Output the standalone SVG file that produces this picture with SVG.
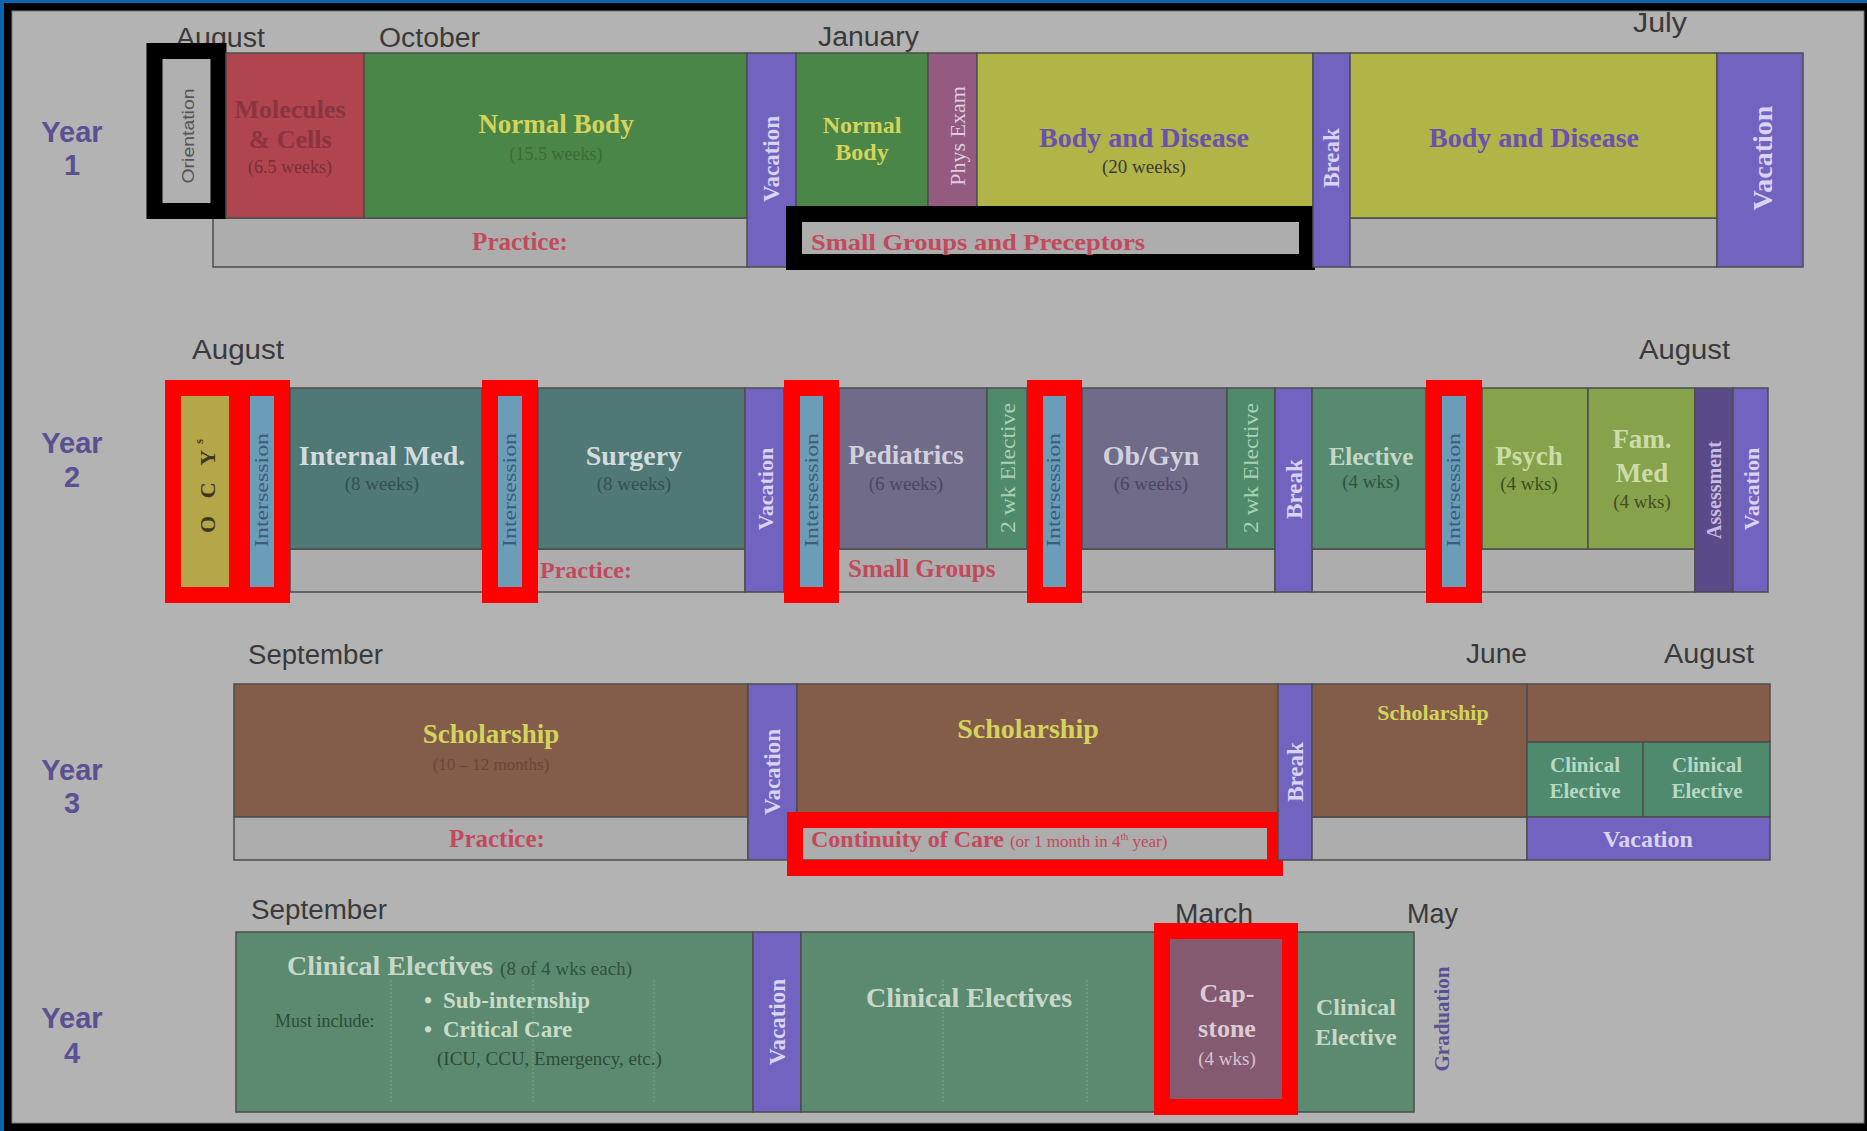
<svg xmlns="http://www.w3.org/2000/svg" width="1867" height="1131" viewBox="0 0 1867 1131">
  <defs>
    <style>
      .mon { font-family: "Liberation Sans", Arial, sans-serif; font-size: 27px; fill: #3a3a3a; }
      .yr { font-family: "Liberation Sans", Arial, sans-serif; font-size: 29px; font-weight: bold; fill: #5a5192; text-anchor: middle; }
      .cell { stroke: #4d4d4d; stroke-width: 1.5; }
      .row { fill: #adadad; stroke: #4d4d4d; stroke-width: 1.5; }
      .b { font-family: "Liberation Serif", "Times New Roman", serif; font-weight: bold; text-anchor: middle; }
      .r { font-family: "Liberation Serif", "Times New Roman", serif; text-anchor: middle; }
      .rl { font-family: "Liberation Serif", "Times New Roman", serif; }
      .bl { font-family: "Liberation Serif", "Times New Roman", serif; font-weight: bold; }
      .vac { fill: #7363c0; stroke: #4d4d4d; stroke-width: 1.5; }
      .vt { font-family: "Liberation Serif", "Times New Roman", serif; font-weight: bold; fill: #d8d4f2; text-anchor: middle; dominant-baseline: central; }
      .ist { fill: #6b9cb8; }
      .it { font-family: "Liberation Serif", "Times New Roman", serif; font-size: 18px; fill: #3d5c7a; text-anchor: middle; dominant-baseline: central; }
      .red { fill: none; stroke: #ff0000; stroke-width: 16; }
      .blk { fill: none; stroke: #000000; stroke-width: 16; }
      .pr { fill: #c24a5c; }
      .yel { fill: #d4d45c; }
      .dot { stroke: #7da08a; stroke-width: 1; stroke-dasharray: 2 2; }
    </style>
  </defs>

  <!-- frame -->
  <rect x="0" y="0" width="1867" height="1131" fill="#000000"/>
  <rect x="0" y="0" width="4" height="1131" fill="#0a64b0"/>
  <rect x="0" y="0" width="1867" height="3" fill="#0a64b0"/>
  <rect x="12" y="11" width="1852" height="1112" fill="#b3b3b3" stroke="#7a7a7a" stroke-width="1"/>

  <!-- year labels -->
  <g id="year-labels">
    <text class="yr" x="72" y="142">Year</text><text class="yr" x="72" y="175">1</text>
    <text class="yr" x="72" y="453">Year</text><text class="yr" x="72" y="487">2</text>
    <text class="yr" x="72" y="780">Year</text><text class="yr" x="72" y="813">3</text>
    <text class="yr" x="72" y="1028">Year</text><text class="yr" x="72" y="1063">4</text>
  </g>

  <!-- month labels -->
  <g id="months">
    <text class="mon" x="176" y="47" textLength="89" lengthAdjust="spacingAndGlyphs">August</text>
    <text class="mon" x="379" y="47" textLength="101" lengthAdjust="spacingAndGlyphs">October</text>
    <text class="mon" x="818" y="46" textLength="101" lengthAdjust="spacingAndGlyphs">January</text>
    <text class="mon" x="1633" y="32" textLength="54" lengthAdjust="spacingAndGlyphs">July</text>
    <text class="mon" x="192" y="359" textLength="92" lengthAdjust="spacingAndGlyphs">August</text>
    <text class="mon" x="1639" y="359" textLength="91" lengthAdjust="spacingAndGlyphs">August</text>
    <text class="mon" x="248" y="664" textLength="135" lengthAdjust="spacingAndGlyphs">September</text>
    <text class="mon" x="1466" y="663" textLength="61" lengthAdjust="spacingAndGlyphs">June</text>
    <text class="mon" x="1664" y="663" textLength="90" lengthAdjust="spacingAndGlyphs">August</text>
    <text class="mon" x="251" y="919" textLength="136" lengthAdjust="spacingAndGlyphs">September</text>
    <text class="mon" x="1175" y="923" textLength="78" lengthAdjust="spacingAndGlyphs">March</text>
    <text class="mon" x="1407" y="923" textLength="51" lengthAdjust="spacingAndGlyphs">May</text>
  </g>

  <!-- ===== Year 1 ===== -->
  <g id="y1-practice-row">
    <rect class="row" x="213" y="218" width="536" height="49"/>
    <text class="b pr" x="520" y="250" font-size="25">Practice:</text>
  </g>
  <g id="y1-orientation">
    <rect x="155" y="53" width="71" height="165" fill="#b0b0b0"/>
    <text class="r" transform="translate(188,136) rotate(-90)" dominant-baseline="central" font-size="17" fill="#555" textLength="95" lengthAdjust="spacingAndGlyphs" style="font-family:'Liberation Sans',Arial,sans-serif">Orientation</text>
    <rect class="blk" x="154.5" y="51" width="64" height="160" stroke-width="15.5"/>
  </g>
  <g id="y1-molecules">
    <rect class="cell" x="226" y="53" width="138" height="165" fill="#b0454f"/>
    <text class="b" x="290" y="118" font-size="26" fill="#8a3440">Molecules</text>
    <text class="b" x="290" y="148" font-size="26" fill="#8a3440">&amp; Cells</text>
    <text class="r" x="290" y="173" font-size="18" fill="#7a2e38">(6.5 weeks)</text>
  </g>
  <g id="y1-normal-body">
    <rect class="cell" x="364" y="53" width="383" height="165" fill="#4a8647"/>
    <text class="b yel" x="556" y="133" font-size="27">Normal Body</text>
    <text class="r" x="556" y="160" font-size="18" fill="#3c6a3c">(15.5 weeks)</text>
  </g>
  <g id="y1-vacation-1">
    <rect class="vac" x="747" y="53" width="49" height="214"/>
    <text class="vt" transform="translate(771,159) rotate(-90)" font-size="23">Vacation</text>
  </g>
  <g id="y1-normal-body-2">
    <rect class="row" x="796" y="218" width="517" height="49"/>
    <rect class="cell" x="796" y="53" width="132" height="165" fill="#4a8647"/>
    <text class="b yel" x="862" y="133" font-size="24">Normal</text>
    <text class="b yel" x="862" y="160" font-size="24">Body</text>
  </g>
  <g id="y1-phys-exam">
    <rect class="cell" x="928" y="53" width="49" height="165" fill="#955a80"/>
    <text class="r" transform="translate(957,136) rotate(-90)" dominant-baseline="central" font-size="22" fill="#ddd0dd">Phys Exam</text>
  </g>
  <g id="y1-body-disease-1">
    <rect class="cell" x="977" y="53" width="336" height="165" fill="#b1b446"/>
    <text class="b" x="1144" y="147" font-size="28" fill="#6a50b0">Body and Disease</text>
    <text class="r" x="1144" y="173" font-size="19" fill="#3a3a3a">(20 weeks)</text>
  </g>
  <g id="y1-small-groups">
    <rect class="blk" x="794" y="214" width="513" height="48"/>
    <text class="bl pr" x="811" y="250" font-size="24" textLength="334" lengthAdjust="spacingAndGlyphs">Small Groups and Preceptors</text>
  </g>
  <g id="y1-break">
    <rect class="vac" x="1313" y="53" width="37" height="214"/>
    <text class="vt" transform="translate(1331,158) rotate(-90)" font-size="23">Break</text>
  </g>
  <g id="y1-body-disease-2">
    <rect class="row" x="1350" y="218" width="367" height="49"/>
    <rect class="cell" x="1350" y="53" width="367" height="165" fill="#b1b446"/>
    <text class="b" x="1534" y="147" font-size="28" fill="#6a50b0">Body and Disease</text>
  </g>
  <g id="y1-vacation-2">
    <rect class="vac" x="1717" y="53" width="86" height="214"/>
    <text class="vt" transform="translate(1762,158) rotate(-90)" font-size="28">Vacation</text>
  </g>

  <!-- ===== Year 2 ===== -->
  <g id="y2-practice-row">
    <rect class="row" x="290" y="549" width="455" height="43"/>
    <rect class="row" x="784" y="549" width="491" height="43"/>
    <rect class="row" x="1312" y="549" width="383" height="43"/>
    <text class="bl pr" x="540" y="578" font-size="24">Practice:</text>
    <text class="bl pr" x="848" y="577" font-size="25">Small Groups</text>
  </g>
  <g id="y2-ocy">
    <rect x="173" y="388" width="64" height="207" fill="#b5a64a"/>
    <text class="b" transform="translate(207,483) rotate(-90)" dominant-baseline="central" font-size="22" fill="#3e3820" letter-spacing="6">O C Y<tspan font-size="12" dy="-8">s</tspan></text>
  </g>
  <g id="y2-intersession-1">
    <rect class="ist" x="242" y="388" width="40" height="207"/>
    <text class="it" transform="translate(262,490) rotate(-90)" textLength="114" lengthAdjust="spacingAndGlyphs">Intersession</text>
  </g>
  <g id="y2-internal-med">
    <rect class="cell" x="290" y="388" width="192" height="161" fill="#4f7877"/>
    <text class="b" x="382" y="465" font-size="28" fill="#d2dcdc">Internal Med.</text>
    <text class="r" x="382" y="490" font-size="19" fill="#34504f">(8 weeks)</text>
  </g>
  <g id="y2-intersession-2">
    <rect class="ist" x="490" y="388" width="40" height="207"/>
    <text class="it" transform="translate(510,490) rotate(-90)" textLength="114" lengthAdjust="spacingAndGlyphs">Intersession</text>
  </g>
  <g id="y2-surgery">
    <rect class="cell" x="538" y="388" width="207" height="161" fill="#4f7877"/>
    <text class="b" x="634" y="465" font-size="28" fill="#d2dcdc">Surgery</text>
    <text class="r" x="634" y="490" font-size="19" fill="#34504f">(8 weeks)</text>
  </g>
  <g id="y2-vacation-1">
    <rect class="vac" x="745" y="388" width="39" height="204"/>
    <text class="vt" transform="translate(765,489) rotate(-90)" font-size="22">Vacation</text>
  </g>
  <g id="y2-intersession-3">
    <rect class="ist" x="792" y="388" width="39" height="207"/>
    <text class="it" transform="translate(812,490) rotate(-90)" textLength="114" lengthAdjust="spacingAndGlyphs">Intersession</text>
  </g>
  <g id="y2-pediatrics">
    <rect class="cell" x="839" y="388" width="148" height="161" fill="#6f6b88"/>
    <text class="b" x="906" y="464" font-size="27" fill="#d2d0dc">Pediatrics</text>
    <text class="r" x="906" y="490" font-size="19" fill="#4a4862">(6 weeks)</text>
  </g>
  <g id="y2-elective-2wk-1">
    <rect class="cell" x="987" y="388" width="40" height="161" fill="#4f8a6a"/>
    <text class="r" transform="translate(1008,468) rotate(-90)" dominant-baseline="central" font-size="20" fill="#a8d2b2" textLength="130" lengthAdjust="spacingAndGlyphs">2 wk   Elective</text>
  </g>
  <g id="y2-intersession-4">
    <rect class="ist" x="1035" y="388" width="39" height="207"/>
    <text class="it" transform="translate(1054,490) rotate(-90)" textLength="114" lengthAdjust="spacingAndGlyphs">Intersession</text>
  </g>
  <g id="y2-obgyn">
    <rect class="cell" x="1082" y="388" width="145" height="161" fill="#6f6b88"/>
    <text class="b" x="1151" y="465" font-size="28" fill="#d2d0dc">Ob/Gyn</text>
    <text class="r" x="1151" y="490" font-size="19" fill="#4a4862">(6 weeks)</text>
  </g>
  <g id="y2-elective-2wk-2">
    <rect class="cell" x="1227" y="388" width="48" height="161" fill="#4f8a6a"/>
    <text class="r" transform="translate(1251,468) rotate(-90)" dominant-baseline="central" font-size="20" fill="#a8d2b2" textLength="130" lengthAdjust="spacingAndGlyphs">2 wk   Elective</text>
  </g>
  <g id="y2-break">
    <rect class="vac" x="1275" y="388" width="37" height="204"/>
    <text class="vt" transform="translate(1294,489) rotate(-90)" font-size="23">Break</text>
  </g>
  <g id="y2-elective">
    <rect class="cell" x="1312" y="388" width="114" height="161" fill="#578a70"/>
    <text class="b" x="1371" y="465" font-size="25" fill="#c4d8c8">Elective</text>
    <text class="r" x="1371" y="488" font-size="19" fill="#34503e">(4 wks)</text>
  </g>
  <g id="y2-intersession-5">
    <rect class="ist" x="1434" y="388" width="40" height="207"/>
    <text class="it" transform="translate(1454,490) rotate(-90)" textLength="114" lengthAdjust="spacingAndGlyphs">Intersession</text>
  </g>
  <g id="y2-psych">
    <rect class="cell" x="1482" y="388" width="106" height="161" fill="#86a24a"/>
    <text class="b" x="1529" y="465" font-size="27" fill="#ccdca8">Psych</text>
    <text class="r" x="1529" y="490" font-size="19" fill="#3e4e22">(4 wks)</text>
  </g>
  <g id="y2-fam-med">
    <rect class="cell" x="1588" y="388" width="107" height="161" fill="#86a24a"/>
    <text class="b" x="1642" y="448" font-size="27" fill="#ccdca8">Fam.</text>
    <text class="b" x="1642" y="482" font-size="27" fill="#ccdca8">Med</text>
    <text class="r" x="1642" y="508" font-size="19" fill="#3e4e22">(4 wks)</text>
  </g>
  <g id="y2-assessment">
    <rect class="cell" x="1695" y="388" width="38" height="204" fill="#5b4a8a"/>
    <text class="vt" transform="translate(1714,490) rotate(-90)" font-size="20" style="fill:#c4bce2">Assessment</text>
  </g>
  <g id="y2-vacation-2">
    <rect class="vac" x="1733" y="388" width="35" height="204"/>
    <text class="vt" transform="translate(1751,489) rotate(-90)" font-size="22">Vacation</text>
  </g>
  <g id="y2-highlights">
    <rect class="red" x="173" y="388" width="64" height="207"/>
    <rect class="red" x="242" y="388" width="40" height="207"/>
    <rect class="red" x="490" y="388" width="40" height="207"/>
    <rect class="red" x="792" y="388" width="39" height="207"/>
    <rect class="red" x="1035" y="388" width="39" height="207"/>
    <rect class="red" x="1434" y="388" width="40" height="207"/>
  </g>

  <!-- ===== Year 3 ===== -->
  <g id="y3-scholarship-1">
    <rect class="cell" x="234" y="684" width="514" height="133" fill="#835c4a"/>
    <text class="b yel" x="491" y="743" font-size="27">Scholarship</text>
    <text class="r" x="491" y="770" font-size="17" fill="#6a4838">(10 – 12 months)</text>
  </g>
  <g id="y3-practice-row">
    <rect class="row" x="234" y="817" width="514" height="43"/>
    <text class="b pr" x="497" y="847" font-size="25">Practice:</text>
  </g>
  <g id="y3-vacation">
    <rect class="vac" x="748" y="684" width="49" height="176"/>
    <text class="vt" transform="translate(772,772) rotate(-90)" font-size="23">Vacation</text>
  </g>
  <g id="y3-scholarship-2">
    <rect class="row" x="797" y="817" width="481" height="43"/>
    <rect class="cell" x="797" y="684" width="481" height="133" fill="#835c4a"/>
    <text class="b yel" x="1028" y="738" font-size="28">Scholarship</text>
  </g>
  <g id="y3-continuity">
    <rect class="red" x="795" y="820" width="480" height="48"/>
    <text class="bl pr" x="811" y="847" font-size="24">Continuity of Care <tspan class="rl" font-size="17" font-weight="normal">(or 1 month in 4<tspan font-size="10" dy="-7">th</tspan><tspan dy="7"> year)</tspan></tspan></text>
  </g>
  <g id="y3-break">
    <rect class="vac" x="1278" y="684" width="34" height="176"/>
    <text class="vt" transform="translate(1295,772) rotate(-90)" font-size="23">Break</text>
  </g>
  <g id="y3-scholarship-3">
    <rect class="row" x="1312" y="817" width="215" height="43"/>
    <rect class="cell" x="1312" y="684" width="215" height="133" fill="#835c4a"/>
    <text class="b yel" x="1433" y="720" font-size="22">Scholarship</text>
  </g>
  <g id="y3-summer">
    <rect class="cell" x="1527" y="684" width="243" height="58" fill="#835c4a"/>
    <rect class="cell" x="1527" y="742" width="116" height="75" fill="#4f8a6e"/>
    <text class="b" x="1585" y="772" font-size="21" fill="#b8d8c4">Clinical</text>
    <text class="b" x="1585" y="798" font-size="21" fill="#b8d8c4">Elective</text>
    <rect class="cell" x="1643" y="742" width="127" height="75" fill="#4f8a6e"/>
    <text class="b" x="1707" y="772" font-size="21" fill="#b8d8c4">Clinical</text>
    <text class="b" x="1707" y="798" font-size="21" fill="#b8d8c4">Elective</text>
    <rect class="vac" x="1527" y="817" width="243" height="43"/>
    <text class="b" x="1648" y="847" font-size="24" fill="#d8d4f2">Vacation</text>
  </g>

  <!-- ===== Year 4 ===== -->
  <g id="y4-electives-1">
    <rect class="cell" x="236" y="932" width="517" height="180" fill="#5b8a70"/>
    <line class="dot" x1="391" y1="980" x2="391" y2="1103"/>
    <line class="dot" x1="533" y1="980" x2="533" y2="1103"/>
    <line class="dot" x1="654" y1="980" x2="654" y2="1103"/>
    <text class="bl" x="287" y="975" font-size="28" fill="#c8d8c8">Clinical Electives <tspan class="rl" font-size="19" font-weight="normal" fill="#34503e">(8 of 4 wks each)</tspan></text>
    <text class="rl" x="275" y="1027" font-size="18" fill="#2f4a38">Must include:</text>
    <text class="bl" x="424" y="1008" font-size="23" fill="#c8dcc8">•</text>
    <text class="bl" x="443" y="1008" font-size="23" fill="#c8dcc8">Sub-internship</text>
    <text class="bl" x="424" y="1037" font-size="23" fill="#c8dcc8">•</text>
    <text class="bl" x="443" y="1037" font-size="23" fill="#c8dcc8">Critical Care</text>
    <text class="rl" x="437" y="1065" font-size="19" fill="#2f4a38">(ICU, CCU, Emergency, etc.)</text>
  </g>
  <g id="y4-vacation">
    <rect class="vac" x="753" y="932" width="48" height="180"/>
    <text class="vt" transform="translate(777,1022) rotate(-90)" font-size="23">Vacation</text>
  </g>
  <g id="y4-electives-2">
    <rect class="cell" x="801" y="932" width="613" height="180" fill="#5b8a70"/>
    <line class="dot" x1="943" y1="980" x2="943" y2="1103"/>
    <line class="dot" x1="1087" y1="980" x2="1087" y2="1103"/>
    <text class="b" x="969" y="1007" font-size="28" fill="#c8d8c8">Clinical Electives</text>
    <text class="b" x="1356" y="1015" font-size="24" fill="#c8d8c8">Clinical</text>
    <text class="b" x="1356" y="1045" font-size="24" fill="#c8d8c8">Elective</text>
  </g>
  <g id="y4-capstone">
    <rect x="1162" y="931" width="128" height="176" fill="#845a70"/>
    <text class="b" x="1227" y="1002" font-size="26" fill="#dccad4">Cap-</text>
    <text class="b" x="1227" y="1037" font-size="26" fill="#dccad4">stone</text>
    <text class="r" x="1227" y="1065" font-size="19" fill="#d6c4ce">(4 wks)</text>
    <rect class="red" x="1162" y="931" width="128" height="176"/>
  </g>
  <g id="y4-graduation">
    <text class="b" transform="translate(1442,1019) rotate(-90)" dominant-baseline="central" font-size="21" fill="#5a5192">Graduation</text>
  </g>
</svg>
